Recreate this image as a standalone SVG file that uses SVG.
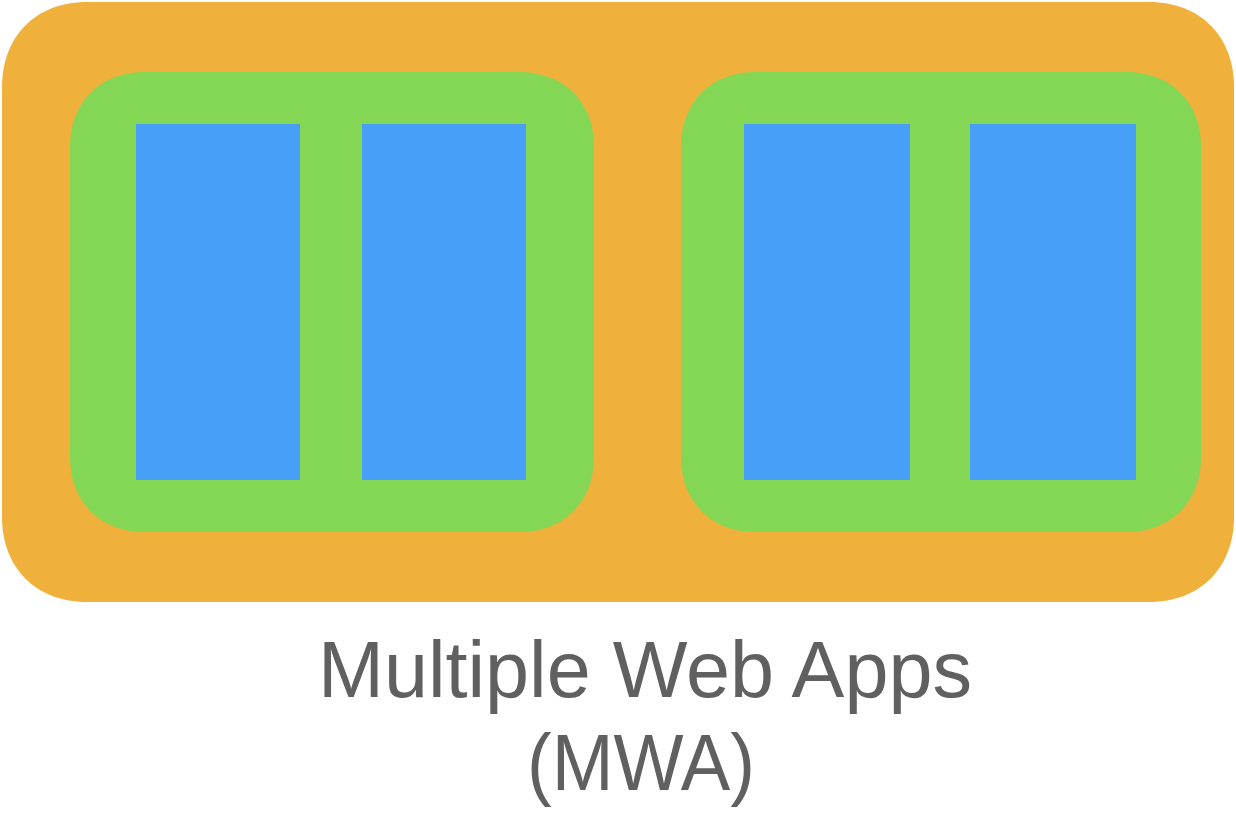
<svg xmlns="http://www.w3.org/2000/svg" width="1236" height="824" viewBox="0 0 1236 824">
<style>
.outer{fill:#F0B03C}
.app{fill:#84D655}
.view{fill:#479FF8}
.label{font-family:"Liberation Sans",Arial,sans-serif;font-size:79px;fill:#606060;text-anchor:middle}
</style>
<rect width="1236" height="824" fill="#ffffff"/>
<g id="container">
<path class="outer" d="M2,87 C2,36 36,2 87,2 L1149,2 C1200,2 1234,36 1234,87 L1234,517 C1234,568 1200,602 1149,602 L87,602 C36,602 2,568 2,517 Z"/>
</g>
<g id="app1">
<path class="app" d="M70,147 C70,102 100,72 145,72 L519,72 C564,72 594,102 594,147 L594,457 C594,502 564,532 519,532 L145,532 C100,532 70,502 70,457 Z"/>
<rect class="view" x="136" y="124" width="164" height="356"/>
<rect class="view" x="362" y="124" width="164" height="356"/>
</g>
<g id="app2">
<path class="app" d="M681,147 C681,102 711,72 756,72 L1126,72 C1171,72 1201,102 1201,147 L1201,457 C1201,502 1171,532 1126,532 L756,532 C711,532 681,502 681,457 Z"/>
<rect class="view" x="744" y="124" width="166" height="356"/>
<rect class="view" x="970" y="124" width="166" height="356"/>
</g>
<g id="connectors"></g>
<g id="caption">
<text class="label" x="645" y="697" textLength="654" lengthAdjust="spacingAndGlyphs">Multiple Web Apps</text>
<text class="label" x="641" y="790" textLength="228" lengthAdjust="spacingAndGlyphs">(MWA)</text>
</g>
</svg>
